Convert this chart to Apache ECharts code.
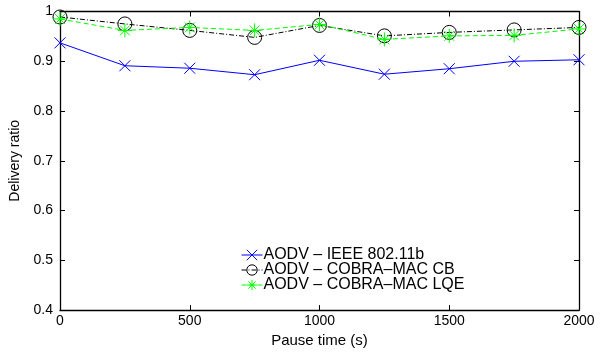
<!DOCTYPE html>
<html><head><meta charset="utf-8">
<script src="https://cdn.jsdelivr.net/npm/echarts@6/dist/echarts.min.js"></script>
<style>html,body{margin:0;padding:0;background:#fff;}#c{width:604px;height:353px;}</style>
</head><body><div id="c"></div>
<script>
const pauseTimes = [0, 250, 500, 750, 1000, 1250, 1500, 1750, 2000];
const ieee = [0.937, 0.891, 0.886, 0.873, 0.902, 0.874, 0.885, 0.900, 0.903];
const cobraCB = [0.989, 0.975, 0.962, 0.948, 0.972, 0.951, 0.958, 0.963, 0.968];
const cobraLQE = [0.985, 0.962, 0.968, 0.962, 0.974, 0.944, 0.951, 0.952, 0.965];
const seriesNames = ['AODV \u2013 IEEE 802.11b', 'AODV \u2013 COBRA\u2013MAC CB', 'AODV \u2013 COBRA\u2013MAC LQE'];
const xLabel = 'Pause time (s)';
const yLabel = 'Delivery ratio';

const font = 'Liberation Sans, Arial, sans-serif';
const pair = (vals) => pauseTimes.map((t, i) => [t, vals[i]]);
const xPath = 'path://M0,0L10,10M10,0L0,10';
const starPath = 'path://M5,0L5,10M0,5L10,5M1.5,1.5L8.5,8.5M8.5,1.5L1.5,8.5';
const colors = ['#0000ff', '#000000', '#00ff00'];
const dashes = ['solid', [5, 2, 1, 2], [5, 3]];
const symbols = [xPath, 'circle', starPath];

const chart = echarts.init(document.getElementById('c'), null, {renderer: 'canvas'});
const axisCommon = {
  axisLine: {show: true, onZero: false, lineStyle: {color: '#000', width: 1.3}},
  axisTick: {show: true, inside: true, length: 5, lineStyle: {color: '#000'}},
  splitLine: {show: false}
};
chart.setOption({
  animation: false,
  backgroundColor: '#fff',
  grid: {left: 60, right: 25, top: 11.5, bottom: 33.5},
  xAxis: [
    Object.assign({type: 'value', min: 0, max: 2000, interval: 500, position: 'bottom',
      name: xLabel, nameLocation: 'middle', nameGap: 22,
      nameTextStyle: {fontFamily: font, fontSize: 15, color: '#000'},
      axisLabel: {fontFamily: font, fontSize: 14, color: '#000', margin: 4, formatter: v => String(v)}}, axisCommon),
    Object.assign({type: 'value', min: 0, max: 2000, interval: 500, position: 'top',
      axisLabel: {show: false}}, axisCommon)
  ],
  yAxis: [
    Object.assign({type: 'value', min: 0.4, max: 1, interval: 0.1, position: 'left',
      name: yLabel, nameLocation: 'middle', nameGap: 31,
      nameTextStyle: {fontFamily: font, fontSize: 14, color: '#000'},
      axisLabel: {fontFamily: font, fontSize: 14, color: '#000', margin: 7}}, axisCommon),
    Object.assign({type: 'value', min: 0.4, max: 1, interval: 0.1, position: 'right',
      axisLabel: {show: false}}, axisCommon)
  ],
  legend: {
    orient: 'vertical', left: 236, top: 242, itemGap: -1, itemWidth: 21, itemHeight: 13,
    textStyle: {fontFamily: font, fontSize: 16, lineHeight: 16, color: '#000', padding: [0, 0, 0, -4]},
    data: seriesNames.map((n, i) => ({
      name: n,
      itemStyle: {color: 'rgba(0,0,0,0)', borderColor: colors[i], borderWidth: 1},
      lineStyle: {color: colors[i], width: 1, type: dashes[i]}
    }))
  },
  series: seriesNames.map((n, i) => ({
    name: n, type: 'line', data: pair([ieee, cobraCB, cobraLQE][i]), symbol: symbols[i],
    symbolSize: [11, 14, 14][i],
    lineStyle: {color: colors[i], width: 1, type: dashes[i]},
    itemStyle: {color: 'rgba(0,0,0,0)', borderColor: colors[i], borderWidth: 1},
    z: [3, 2, 4][i]
  }))
});
</script></body></html>
